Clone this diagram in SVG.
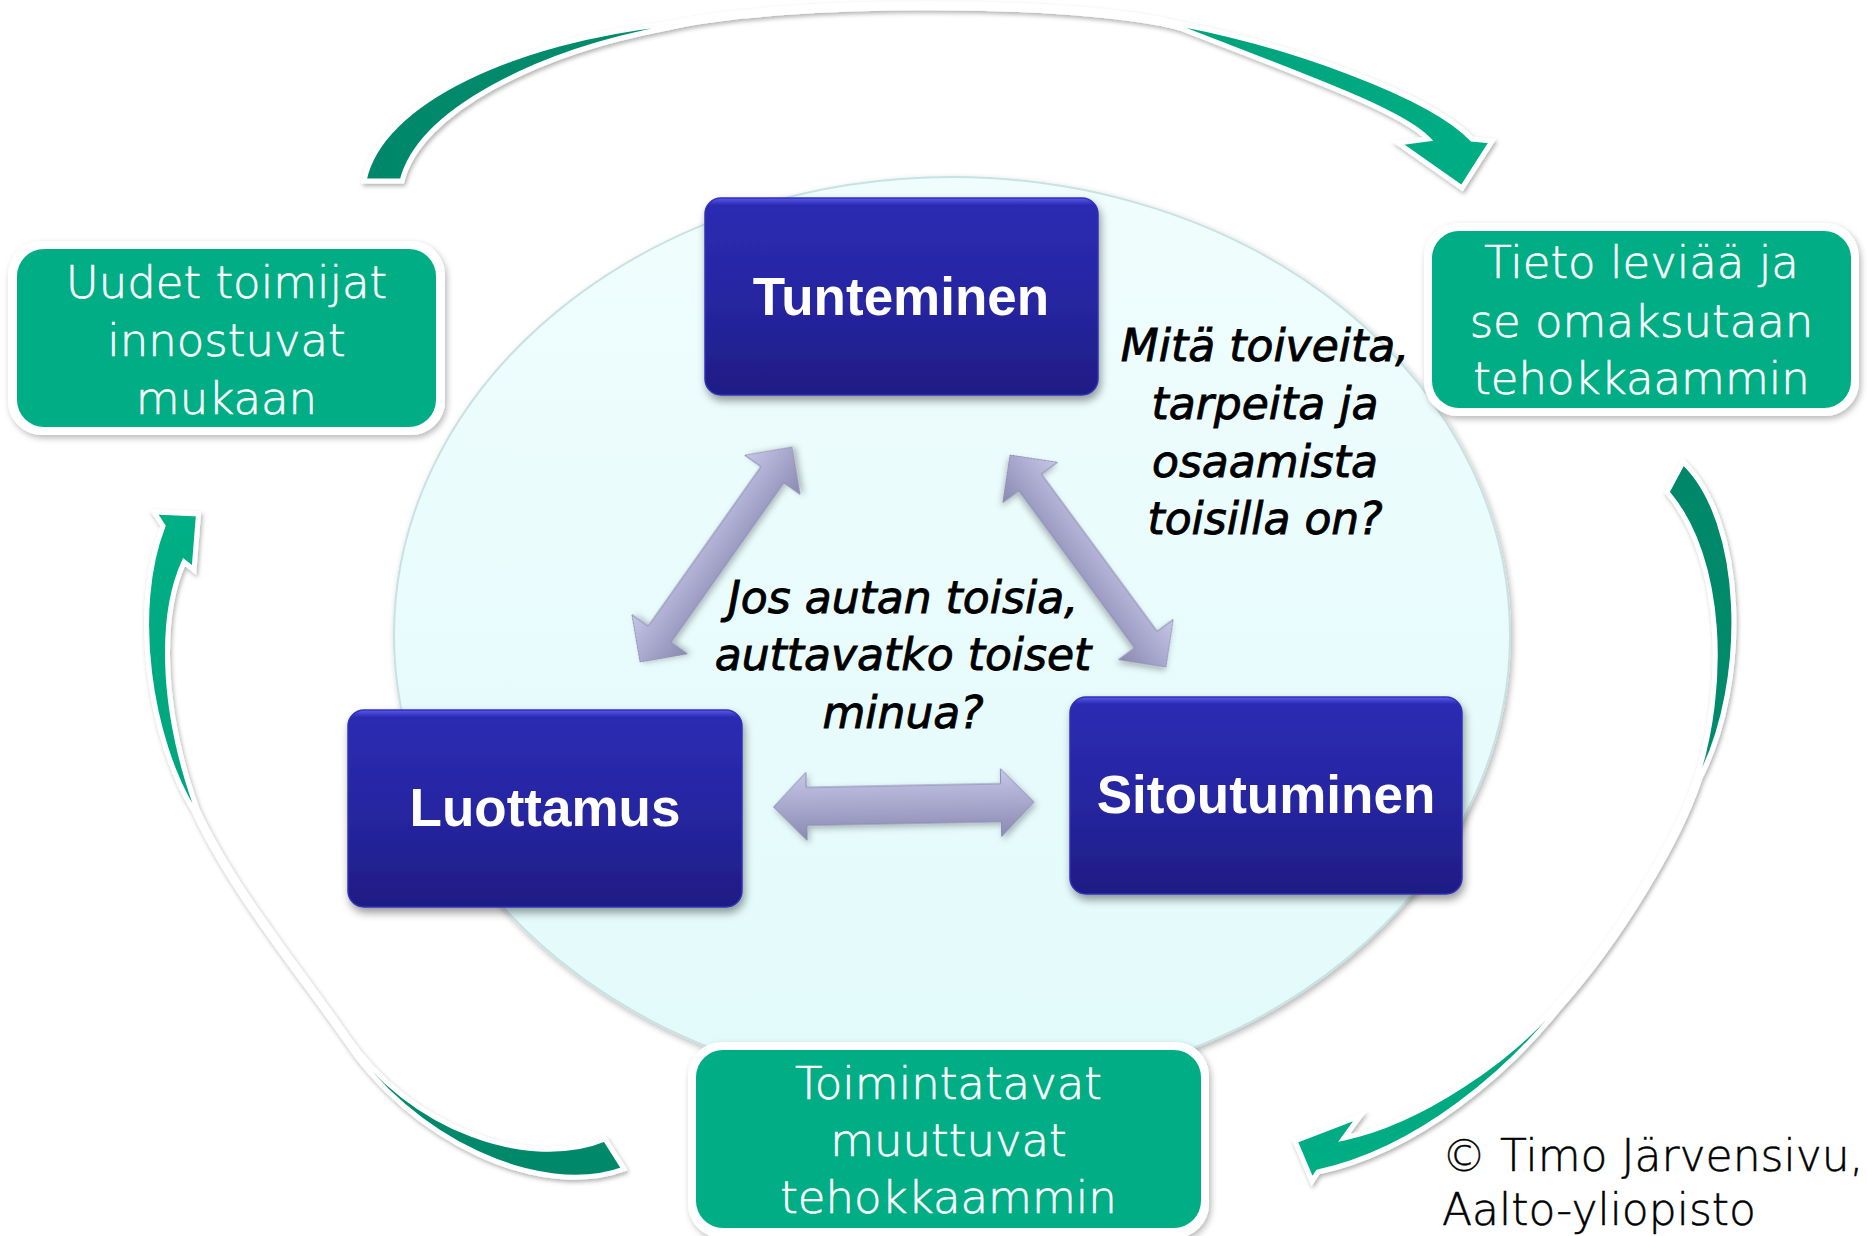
<svg xmlns="http://www.w3.org/2000/svg" width="1867" height="1236" viewBox="0 0 1867 1236">
  <defs>
    <style>
      .blueTxt { font-family: "Liberation Sans", Arial, sans-serif; font-weight: bold; font-size: 53px; fill: #ffffff; text-anchor: middle; }
      .greenTxt { font-family: "DejaVu Sans", "Liberation Sans", sans-serif; font-weight: 200; font-size: 45px; fill: #ffffff; stroke: #ffffff; stroke-width: 0.6; text-anchor: middle; }
      .qTxt { font-family: "DejaVu Sans", "Liberation Sans", sans-serif; font-style: italic; font-size: 44px; fill: #000000; stroke: #000000; stroke-width: 0.9; text-anchor: middle; }
      .copy { font-family: "DejaVu Sans", "Liberation Sans", sans-serif; font-weight: 200; font-size: 44px; fill: #000000; stroke: #000000; stroke-width: 0.5; }
      .blueBox { fill: url(#blueGrad); stroke: #3030b8; stroke-width: 1.5; filter: url(#boxShadow); }
      .greenBox { fill: #00ad84; }
      .whiteBox { fill: #ffffff; filter: url(#softShadow); }
      .grayArrow { fill: url(#grayGrad); stroke: #8c8cb4; stroke-width: 1; filter: url(#softShadow); }
      .cycleArrow { stroke: #ffffff; stroke-width: 5; stroke-linejoin: miter; filter: url(#arrowShadow); }
    </style>
    <linearGradient id="blueGrad" x1="0" y1="0" x2="0" y2="1">
      <stop offset="0" stop-color="#5a5af0"/>
      <stop offset="0.035" stop-color="#2b2bb3"/>
      <stop offset="0.5" stop-color="#2626a2"/>
      <stop offset="1" stop-color="#1f1c84"/>
    </linearGradient>
    <linearGradient id="ellGrad" x1="0" y1="0" x2="0" y2="1">
      <stop offset="0" stop-color="#f0fdfd"/>
      <stop offset="1" stop-color="#e2fafb"/>
    </linearGradient>
    <linearGradient id="grayGrad" x1="0" y1="0" x2="0" y2="1">
      <stop offset="0" stop-color="#c6c6e6"/>
      <stop offset="0.5" stop-color="#a8a8ce"/>
      <stop offset="1" stop-color="#8a8ab0"/>
    </linearGradient>
    <linearGradient id="topGrad" gradientUnits="userSpaceOnUse" x1="364" y1="0" x2="1492" y2="0">
      <stop offset="0" stop-color="#00876a"/>
      <stop offset="0.25" stop-color="#008d6d"/>
      <stop offset="0.3" stop-color="#008d6d" stop-opacity="0"/>
      <stop offset="0.7" stop-color="#00a27c" stop-opacity="0"/>
      <stop offset="0.73" stop-color="#00a27c"/>
      <stop offset="1" stop-color="#00ae84"/>
    </linearGradient>
    <linearGradient id="rightGrad" gradientUnits="userSpaceOnUse" x1="0" y1="462" x2="0" y2="1181">
      <stop offset="0" stop-color="#00876a"/>
      <stop offset="0.4" stop-color="#008c6c"/>
      <stop offset="0.46" stop-color="#008c6c" stop-opacity="0"/>
      <stop offset="0.74" stop-color="#00a47d" stop-opacity="0"/>
      <stop offset="0.78" stop-color="#00a47d"/>
      <stop offset="1" stop-color="#00af85"/>
    </linearGradient>
    <linearGradient id="leftGrad" gradientUnits="userSpaceOnUse" x1="0" y1="1185" x2="0" y2="512">
      <stop offset="0" stop-color="#00876a"/>
      <stop offset="0.19" stop-color="#008c6c"/>
      <stop offset="0.24" stop-color="#008c6c" stop-opacity="0"/>
      <stop offset="0.53" stop-color="#00a47d" stop-opacity="0"/>
      <stop offset="0.57" stop-color="#00a47d"/>
      <stop offset="1" stop-color="#00af85"/>
    </linearGradient>
    <filter id="boxShadow" x="-10%" y="-10%" width="125%" height="130%">
      <feDropShadow dx="2" dy="5" stdDeviation="4" flood-color="#000000" flood-opacity="0.4"/>
    </filter>
    <filter id="softShadow" x="-10%" y="-10%" width="125%" height="130%">
      <feDropShadow dx="2" dy="3" stdDeviation="3" flood-color="#000000" flood-opacity="0.28"/>
    </filter>
    <filter id="arrowShadow" x="-10%" y="-10%" width="125%" height="125%">
      <feDropShadow dx="1.5" dy="2.5" stdDeviation="2" flood-color="#000000" flood-opacity="0.3"/>
    </filter>
  </defs>

  <rect x="0" y="0" width="1867" height="1236" fill="#ffffff"/>

  <g id="background-ellipse">
    <ellipse cx="952" cy="635" rx="558" ry="458" fill="url(#ellGrad)" stroke="#c8e2e2" stroke-width="2" filter="url(#softShadow)"/>
  </g>

  <g id="connectors">
    <!-- outer cycle arrows -->
    <path id="arrow-top" class="cycleArrow" fill="url(#topGrad)" d="M 364 181 C 380 100, 520 40, 667 24 C 780 -3, 1080 -3, 1180 24 C 1290 45, 1430 95, 1472 139 L 1492 141 L 1462 188 L 1398 143 L 1428 139 C 1400 110, 1300 75, 1180 28 C 1080 1, 780 1, 667 28 C 540 52, 420 110, 402 181 Z"/>
    <path id="arrow-right" class="cycleArrow" fill="url(#rightGrad)" d="M 1683 462 C 1745 520, 1750 680, 1700 778 C 1680 840, 1620 940, 1560 1007 C 1510 1070, 1420 1150, 1318 1172 L 1312 1181 L 1295 1141 L 1360 1116 L 1344 1138 C 1420 1122, 1510 1060, 1557 1004 C 1617 937, 1677 838, 1697 776 C 1725 690, 1725 560, 1667 492 Z"/>
    <path id="arrow-left" class="cycleArrow" fill="url(#leftGrad)" d="M 605 1139 L 624 1169 C 540 1200, 410 1140, 344 1038 C 300 975, 230 890, 194 811 C 150 740, 130 610, 163 526 L 154 512 L 198.5 514 L 194 570 L 184 562 C 162 610, 158 700, 197 809 C 233 888, 303 972, 346 1035 C 410 1130, 530 1170, 605 1139 Z"/>
    <!-- inner double arrows -->
    <polygon id="arrow-trust-know" class="grayArrow" transform="translate(640,662) rotate(-54.74)" points="0,0 34,-34 34,-14 229.3,-14 229.3,-34 263.3,0 229.3,34 229.3,14 34,14 34,34"/>
    <polygon id="arrow-know-commit" class="grayArrow" transform="translate(1010,455) rotate(53.66)" points="0,0 34,-34 34,-14 229.2,-14 229.2,-34 263.2,0 229.2,34 229.2,14 34,14 34,34"/>
    <polygon id="arrow-trust-commit" class="grayArrow" transform="translate(773.5,807) rotate(-1.1)" points="0,0 33,-34 33,-19 227.5,-19 227.5,-34 260.5,0 227.5,34 227.5,19 33,19 33,34"/>
  </g>

  <g id="node-tunteminen">
    <rect class="blueBox" x="705" y="198" width="393" height="197" rx="16"/>
    <text class="blueTxt" x="901" y="315">Tunteminen</text>
  </g>

  <g id="node-luottamus">
    <rect class="blueBox" x="348" y="710" width="394" height="197" rx="16"/>
    <text class="blueTxt" x="545" y="826">Luottamus</text>
  </g>

  <g id="node-sitoutuminen">
    <rect class="blueBox" x="1070" y="697" width="392" height="197" rx="16"/>
    <text class="blueTxt" x="1266" y="813">Sitoutuminen</text>
  </g>

  <g id="node-uudet-toimijat">
    <rect class="whiteBox" x="8" y="241" width="437" height="194" rx="34"/>
    <rect class="greenBox" x="17" y="249" width="419" height="178" rx="27"/>
    <text class="greenTxt" x="226.5" y="298">Uudet toimijat</text>
    <text class="greenTxt" x="226.5" y="356">innostuvat</text>
    <text class="greenTxt" x="226.5" y="414">mukaan</text>
  </g>

  <g id="node-tieto-leviaa">
    <rect class="whiteBox" x="1424" y="223" width="435" height="193" rx="34"/>
    <rect class="greenBox" x="1432" y="231" width="419" height="177" rx="27"/>
    <text class="greenTxt" x="1641.5" y="278">Tieto leviää ja</text>
    <text class="greenTxt" x="1641.5" y="337">se omaksutaan</text>
    <text class="greenTxt" x="1641.5" y="394">tehokkaammin</text>
  </g>

  <g id="node-toimintatavat">
    <rect class="whiteBox" x="688" y="1042" width="521" height="196" rx="34"/>
    <rect class="greenBox" x="696" y="1050" width="505" height="178" rx="27"/>
    <text class="greenTxt" x="948.5" y="1099">Toimintatavat</text>
    <text class="greenTxt" x="948.5" y="1156">muuttuvat</text>
    <text class="greenTxt" x="948.5" y="1213">tehokkaammin</text>
  </g>

  <g id="question-needs">
    <text class="qTxt" x="1265" y="361">Mitä toiveita,</text>
    <text class="qTxt" x="1265" y="419">tarpeita ja</text>
    <text class="qTxt" x="1265" y="477">osaamista</text>
    <text class="qTxt" x="1265" y="534">toisilla on?</text>
  </g>

  <g id="question-help">
    <text class="qTxt" x="903" y="613">Jos autan toisia,</text>
    <text class="qTxt" x="903" y="670">auttavatko toiset</text>
    <text class="qTxt" x="903" y="728">minua?</text>
  </g>

  <g id="copyright">
    <text class="copy" x="1442" y="1171">© Timo Järvensivu,</text>
    <text class="copy" x="1442" y="1225">Aalto-yliopisto</text>
  </g>
</svg>
